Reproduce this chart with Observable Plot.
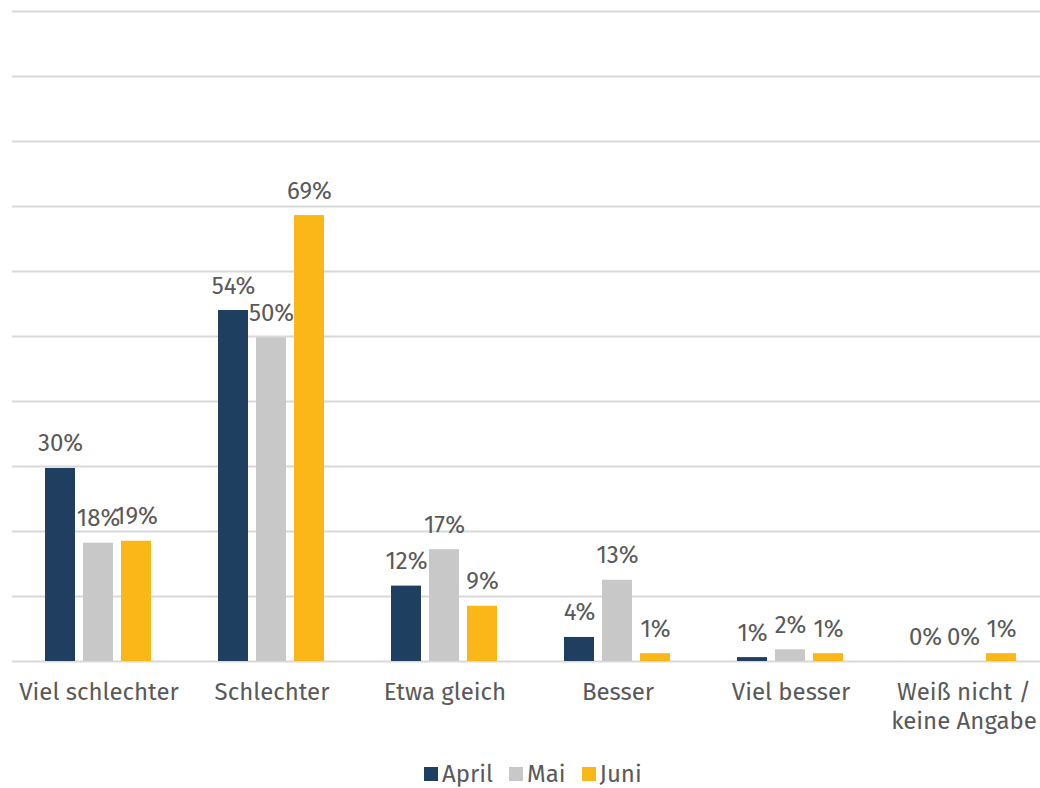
<!DOCTYPE html>
<html>
<head>
<meta charset="utf-8">
<script src="https://cdn.jsdelivr.net/npm/d3@7"></script>
<script src="https://cdn.jsdelivr.net/npm/@observablehq/plot@0.6"></script>
<style>
  html, body { margin: 0; padding: 0; background: #fff; overflow: hidden; width: 1040px; }
  body { font-family: "Fira Sans", "Open Sans", sans-serif; color: #595959; }
  #chart { width: 1040px; overflow: hidden; }
  #chart svg { display: block; max-width: none !important; }
  .legend { display: flex; align-items: center; margin-left: 424px; margin-top: 14px; height: 40px; font-size: 24px; color: #595959; }
  .legend .item { display: flex; align-items: center; margin-right: 16px; }
  .legend .sw { width: 14px; height: 14px; margin-right: 4px; }
</style>
</head>
<body>
<div id="chart"></div>
<div class="legend" id="legend"></div>
<script>
const categories = ["Viel schlechter", "Schlechter", "Etwa gleich", "Besser", "Viel besser", "Weiß nicht /\nkeine Angabe"];
const series = ["April", "Mai", "Juni"];
const april = [29.7, 54.0, 11.6, 3.7, 0.6, 0];
const mai = [18.2, 49.8, 17.2, 12.5, 1.8, 0];
const juni = [18.5, 68.6, 8.5, 1.2, 1.2, 1.2];
const colors = ["#1f3f60", "#c8c8c8", "#fbb617"];
const yTicks = [0, 10, 20, 30, 40, 50, 60, 70, 80, 90, 100];

const valuesBySeries = [april, mai, juni];
const data = categories.flatMap((c, i) =>
  series.map((s, j) => ({category: c, series: s, value: valuesBySeries[j][i]}))
);

const chart = Plot.plot({
  width: 1051,
  height: 740,
  marginTop: 11,
  marginLeft: 11,
  marginRight: 0,
  marginBottom: 79,
  style: {fontFamily: '"Fira Sans", "Open Sans", sans-serif', color: "#595959", background: "#fff", maxWidth: "none"},
  fx: {domain: categories, padding: 0, label: null},
  x: {domain: series, paddingInner: 0.2, paddingOuter: 0.868, axis: null},
  y: {domain: [0, 100], axis: null},
  color: {domain: series, range: colors},
  marks: [
    Plot.gridY(yTicks, {stroke: "#d9d9d9", strokeOpacity: 1, strokeWidth: 2}),
    Plot.barY(data, {fx: "category", x: "series", y: "value", fill: "series"}),
    Plot.text(data, {
      fx: "category", x: "series", y: "value",
      text: d => Math.round(d.value) + "%",
      lineAnchor: "bottom", dy: -17, fill: "#595959", fontSize: 24
    }),
    Plot.axisFx({anchor: "bottom", tickSize: 0, tickPadding: 18, fontSize: 24, label: null, lineHeight: 1.2, fill: "#595959"})
  ]
});
document.getElementById("chart").appendChild(chart);

const legend = document.getElementById("legend");
series.forEach((s, j) => {
  const item = document.createElement("div");
  item.className = "item";
  const sw = document.createElement("div");
  sw.className = "sw";
  sw.style.background = colors[j];
  const t = document.createElement("span");
  t.textContent = s;
  item.appendChild(sw);
  item.appendChild(t);
  legend.appendChild(item);
});
</script>
</body>
</html>
